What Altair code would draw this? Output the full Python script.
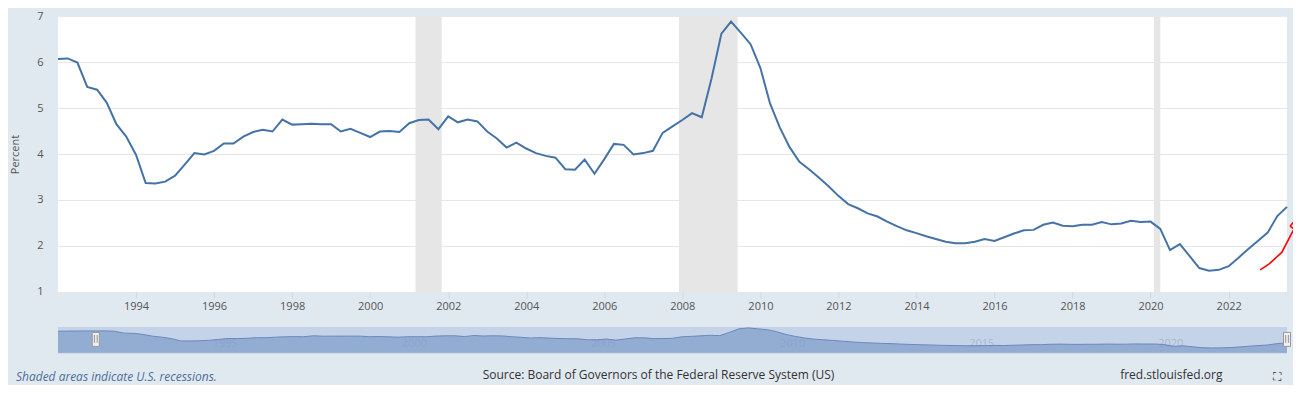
import altair as alt
import pandas as pd

# ---------------- data ----------------
series_start = "1992-01-01"  # quarterly observations
series_values = [
    6.07, 6.08, 5.99, 5.46,   # 1992
    5.40, 5.12, 4.65, 4.38,   # 1993
    3.98, 3.37, 3.36, 3.40,   # 1994
    3.53, 3.77, 4.02, 3.99,   # 1995
    4.07, 4.23, 4.23, 4.38,   # 1996
    4.48, 4.53, 4.49, 4.75,   # 1997
    4.64, 4.65, 4.66, 4.65,   # 1998
    4.65, 4.49, 4.55, 4.46,   # 1999
    4.37, 4.49, 4.50, 4.48,   # 2000
    4.67, 4.74, 4.75, 4.54,   # 2001
    4.82, 4.69, 4.75, 4.71,   # 2002
    4.49, 4.34, 4.14, 4.25,   # 2003
    4.12, 4.02, 3.96, 3.92,   # 2004
    3.67, 3.66, 3.88, 3.57,   # 2005
    3.89, 4.22, 4.20, 3.99,   # 2006
    4.02, 4.07, 4.46, 4.60,   # 2007
    4.74, 4.89, 4.80, 5.65,   # 2008
    6.62, 6.88, 6.64, 6.39,   # 2009
    5.87, 5.10, 4.58, 4.15,   # 2010
    3.83, 3.67, 3.49, 3.30,   # 2011
    3.09, 2.91, 2.82, 2.71,   # 2012
    2.64, 2.53, 2.43, 2.34,   # 2013
    2.28, 2.21, 2.15, 2.09,   # 2014
    2.06, 2.06, 2.09, 2.15,   # 2015
    2.11, 2.19, 2.27, 2.34,   # 2016
    2.35, 2.46, 2.51, 2.44,   # 2017
    2.43, 2.46, 2.46, 2.52,   # 2018
    2.47, 2.49, 2.55, 2.52,   # 2019
    2.53, 2.37, 1.91, 2.04,   # 2020
    1.78, 1.52, 1.46, 1.48,   # 2021
    1.56, 1.74, 1.93, 2.11,   # 2022
    2.29, 2.65, 2.85,         # 2023
]

# navigator covers one more year at the start
navigator_start = "1991-01-01"
navigator_extra_values = [5.98, 6.02, 6.05, 6.06]  # 1991

recession_start = ["2001-03-01", "2007-12-01", "2020-02-01"]
recession_end = ["2001-11-01", "2009-06-01", "2020-04-01"]

x_tick_years = [1994, 1996, 1998, 2000, 2002, 2004, 2006, 2008,
                2010, 2012, 2014, 2016, 2018, 2020, 2022]
y_ticks = [1, 2, 3, 4, 5, 6, 7]
navigator_label_years = [1995, 2000, 2005, 2010, 2015, 2020]
selection_bounds = ["1992-01-01", "2023-07-01"]

# hand-drawn red arrow annotation (in data space)
arrow_dates = ["2022-10-23", "2023-01-15", "2023-05-13", "2023-08-15", "2023-09-16"]
arrow_values = [1.48, 1.61, 1.86, 2.28, 2.41]
arrowhead_dates = ["2023-07-30", "2023-10-16", "2023-09-30", "2023-07-30"]
arrowhead_values = [2.43, 2.64, 2.33, 2.43]

y_title = "Percent"
note_text = "Shaded areas indicate U.S. recessions."
source_text = "Source: Board of Governors of the Federal Reserve System (US)"
site_text = "fred.stlouisfed.org"
fullscreen_icon = "⛶"

# ---------------- tables ----------------
df = pd.DataFrame({
    "date": pd.date_range(series_start, periods=len(series_values), freq="QS"),
    "value": series_values,
})
nav_vals = navigator_extra_values + series_values
nav_df = pd.DataFrame({
    "date": pd.date_range(navigator_start, periods=len(nav_vals), freq="QS"),
    "value": nav_vals,
})
rec_df = pd.DataFrame({"start": pd.to_datetime(recession_start),
                       "end": pd.to_datetime(recession_end)})
arrow_df = pd.DataFrame({"date": pd.to_datetime(arrow_dates), "value": arrow_values,
                         "i": list(range(len(arrow_dates)))})
head_df = pd.DataFrame({"date": pd.to_datetime(arrowhead_dates), "value": arrowhead_values,
                        "i": list(range(len(arrowhead_dates)))})
sel_df = pd.DataFrame({"date": pd.to_datetime(selection_bounds)})

FONT = "Open Sans"
W, H = 1230, 276
NAV_H = 25
LINE = "#4572A7"
TXT = "#555555"

x_scale = alt.Scale(domain=[alt.DateTime(year=1992, month=1, date=1),
                            alt.DateTime(year=2023, month=7, date=1)], nice=False)
y_scale = alt.Scale(domain=[1, 7], nice=False, zero=False)

x_axis = alt.Axis(
    values=[alt.DateTime(year=y, month=1, date=1) for y in x_tick_years],
    format="%Y", title=None, grid=False, domain=False,
    labelFont=FONT, labelFontSize=11, labelColor=TXT, labelPadding=3,
    tickColor="#ccd6eb", tickSize=6, labelFlush=False,
)
y_axis = alt.Axis(
    values=y_ticks, title=y_title, titleFont=FONT, titleFontSize=11,
    titleFontWeight="normal", titleColor=TXT, titlePadding=16,
    labelFont=FONT, labelFontSize=11, labelColor=TXT, labelPadding=15,
    ticks=False, domain=False, gridColor="#e6e6e6", grid=True,
)

rec = alt.Chart(rec_df).mark_rect(color="#e6e6e6").encode(
    x=alt.X("start:T", scale=x_scale, axis=x_axis),
    x2="end:T",
)
line = alt.Chart(df).mark_line(color=LINE, strokeWidth=2).encode(
    x=alt.X("date:T", scale=x_scale),
    y=alt.Y("value:Q", scale=y_scale, axis=y_axis),
)
arrow = alt.Chart(arrow_df).mark_line(color="#ff0000", strokeWidth=1.6, clip=False).encode(
    x="date:T", y="value:Q", order="i:Q",
)
head = alt.Chart(head_df).mark_line(color="#ff0000", strokeWidth=1.6, clip=False).encode(
    x="date:T", y="value:Q", order="i:Q",
)

main = alt.layer(rec, line, arrow, head).properties(
    width=W, height=H, view=alt.ViewBackground(fill="white", stroke=None)
)

# ---------------- navigator ----------------
nx_scale = alt.Scale(domain=[alt.DateTime(year=1991, month=1, date=1),
                             alt.DateTime(year=2023, month=7, date=1)], nice=False)
ny_scale = alt.Scale(domain=[0.4, 7.15], nice=False, zero=False)

nav_axis = alt.Axis(
    values=[alt.DateTime(year=y, month=1, date=1) for y in navigator_label_years],
    format="%Y", title=None, grid=False, domain=False, ticks=False,
    labelFont=FONT, labelFontSize=11, labelColor="#a9b8d0", labelAlign="left",
    labelPadding=-14, labelOffset=3, labelFlush=False,
)

nav_area = alt.Chart(nav_df).mark_area(color="#7e9bc9", line=alt.OverlayMarkDef(color="#6a89bd", strokeWidth=1)).encode(
    x=alt.X("date:T", scale=nx_scale, axis=nav_axis),
    y=alt.Y("value:Q", scale=ny_scale, axis=None),
)
handles = alt.Chart(sel_df).mark_point(
    shape="M-0.5,-1L0.5,-1L0.5,1L-0.5,1Z", size=196, filled=True,
    fill="#f2f2f2", stroke="#999999", strokeWidth=1, opacity=1,
).encode(x="date:T", y=alt.value(NAV_H / 2))
grips = alt.Chart(sel_df).mark_text(text="||", fontSize=8, color="#666666", font="DejaVu Sans").encode(
    x="date:T", y=alt.value(NAV_H / 2)
)

texts_left = alt.Chart(pd.DataFrame({"t": [note_text]})).mark_text(
    font=FONT, fontSize=12, fontStyle="italic", color="#4d6e99", align="left", baseline="middle"
).encode(text="t:N", x=alt.value(-42), y=alt.value(50.5))
texts_mid = alt.Chart(pd.DataFrame({"t": [source_text]})).mark_text(
    font=FONT, fontSize=12, color="#333333", align="center", baseline="middle"
).encode(text="t:N", x=alt.value(601), y=alt.value(48))
texts_right = alt.Chart(pd.DataFrame({"t": [site_text]})).mark_text(
    font=FONT, fontSize=12, color="#333333", align="left", baseline="middle"
).encode(text="t:N", x=alt.value(1063), y=alt.value(48))
icon = alt.Chart(pd.DataFrame({"t": [fullscreen_icon]})).mark_text(
    font="DejaVu Sans", fontSize=12, color="#333333", align="center", baseline="middle"
).encode(text="t:N", x=alt.value(1220), y=alt.value(50.5))

nav = alt.layer(nav_area, handles, grips, texts_left, texts_mid, texts_right, icon).properties(
    width=W, height=NAV_H, view=alt.ViewBackground(fill="#c5d3e8", stroke=None)
)

chart = alt.vconcat(main, nav, spacing=14).configure(
    background="#e1e9f0",
    padding={"left": 1, "top": 2, "right": -9, "bottom": 1},
).configure_view(stroke=None)

chart.save("out.html", embed_options={"renderer": "svg", "actions": False})
